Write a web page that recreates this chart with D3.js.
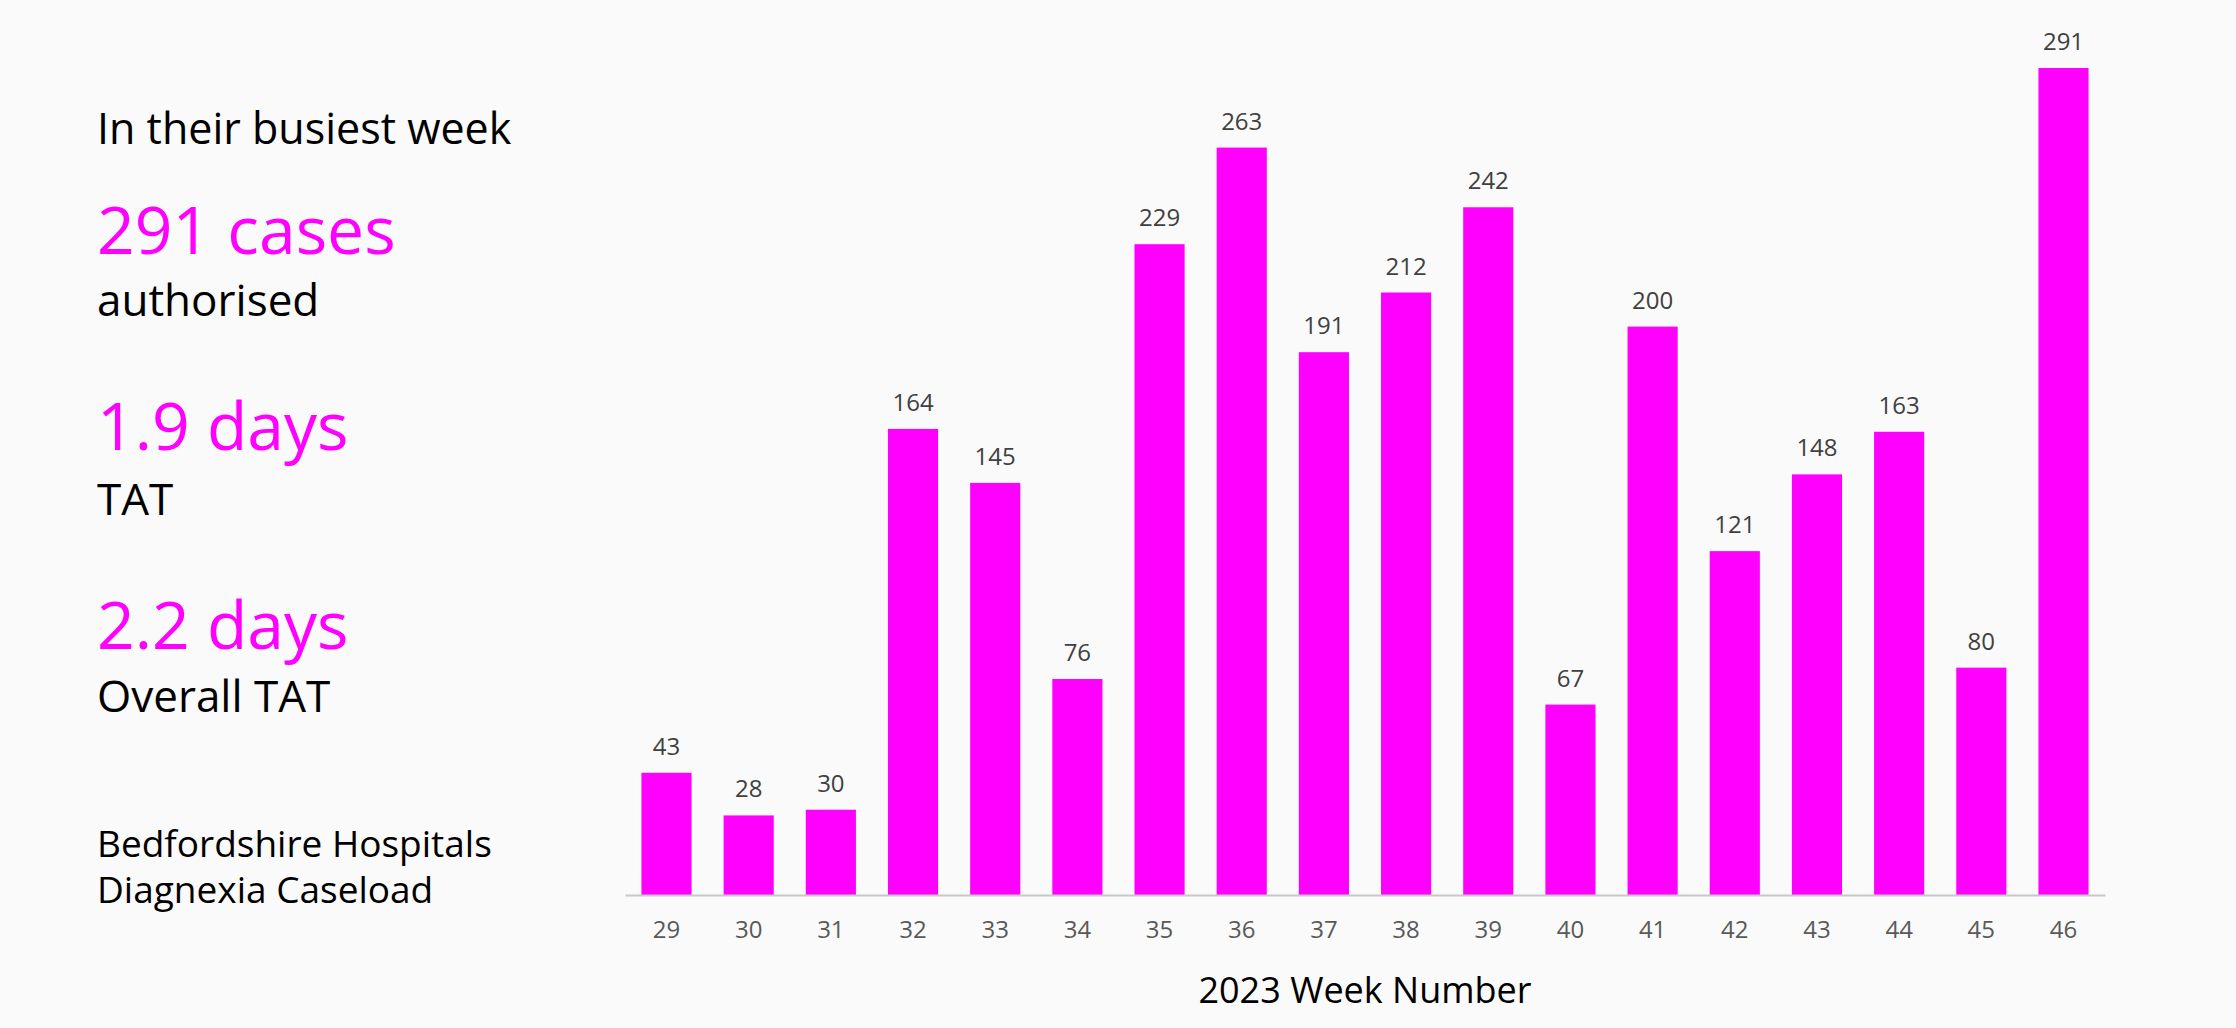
<!DOCTYPE html>
<html><head><meta charset="utf-8">
<script src="https://cdn.jsdelivr.net/npm/d3@7"></script>
<style>html,body{margin:0;background:#fafafa;}svg{display:block;font-family:"Open Sans",sans-serif;}</style>
</head><body>
<svg id="c" width="2236" height="1028"></svg>
<script>
const weeks = ["29","30","31","32","33","34","35","36","37","38","39","40","41","42","43","44","45","46"];
const cases = [43,28,30,164,145,76,229,263,191,212,242,67,200,121,148,163,80,291];
const sideTexts = [
  {t:"In their busiest week", y:144, s:43, c:"#000"},
  {t:"291 cases", y:254, s:66, c:"#ff00ff"},
  {t:"authorised", y:316, s:44, c:"#000"},
  {t:"1.9 days", y:450, s:66, c:"#ff00ff"},
  {t:"TAT", y:515, s:44, c:"#000"},
  {t:"2.2 days", y:649, s:66, c:"#ff00ff"},
  {t:"Overall TAT", y:712, s:44, c:"#000"},
  {t:"Bedfordshire Hospitals", y:857, s:37, c:"#000"},
  {t:"Diagnexia Caseload", y:903, s:37, c:"#000"}
];
const svg = d3.select("#c");
svg.append("rect").attr("width",2236).attr("height",1028).attr("fill","#fafafa");
const x = d3.scaleBand().domain(weeks).range([625,2105]).paddingInner(0.39).paddingOuter(0.2);
const y = d3.scaleLinear().domain([0,291]).range([895,68]);
svg.selectAll(".bar").data(cases).join("rect")
  .attr("x",(d,i)=>x(weeks[i])).attr("width",x.bandwidth())
  .attr("y",d=>y(d)).attr("height",d=>y(0)-y(d)).attr("fill","#ff00ff");
svg.selectAll(".lbl").data(cases).join("text")
  .attr("x",(d,i)=>x(weeks[i])+x.bandwidth()/2).attr("y",d=>y(d)-18)
  .attr("text-anchor","middle").attr("font-size",24).attr("fill","#404040").text(d=>d);
const ax = svg.append("g").attr("transform","translate(0,895)")
  .call(d3.axisBottom(x).tickSize(0).tickPadding(26));
ax.select(".domain").attr("stroke","#c8c8c8").attr("stroke-width",2);
ax.selectAll("text").attr("font-size",24).attr("fill","#595959").attr("font-family","'Open Sans',sans-serif");
svg.append("text").attr("x",1365).attr("y",1003).attr("text-anchor","middle")
  .attr("font-size",36).attr("fill","#000").text("2023 Week Number");
svg.selectAll(".side").data(sideTexts).join("text")
  .attr("x",97).attr("y",d=>d.y).attr("font-size",d=>d.s).attr("fill",d=>d.c).text(d=>d.t);
</script>
</body></html>
